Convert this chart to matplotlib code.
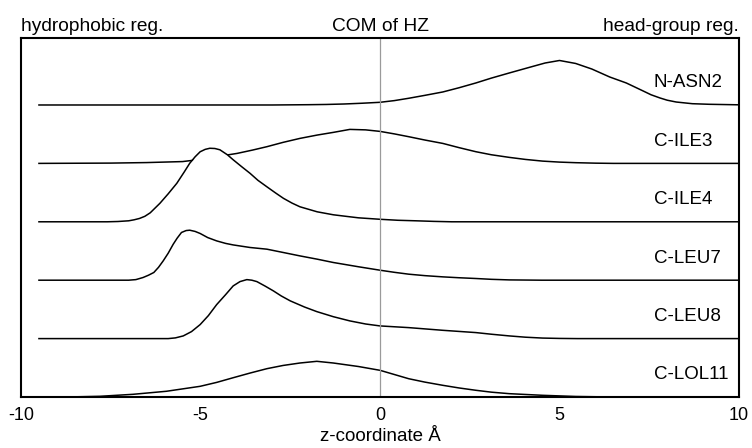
import matplotlib
matplotlib.use("Agg")
import matplotlib.pyplot as plt

plt.rcParams['font.family'] = ['Liberation Sans', 'DejaVu Sans']

# ---- data (densities in units of the vertical offset between curves) ----
labels = ["N-ASN2", "C-ILE3", "C-ILE4", "C-LEU7", "C-LEU8", "C-LOL11"]
offsets = [5, 4, 3, 2, 1, 0]

z_asn2 = [-9.5, -3.0, -2.0, -1.5, -1.0, -0.5, 0.0, 0.4, 0.8, 1.25, 1.75, 2.2, 2.67, 3.1, 3.6,
          4.2, 4.6, 5.0, 5.45, 5.9, 6.4, 6.86, 7.33, 7.55, 7.8, 8.0, 8.25, 8.7, 9.17, 10.0]
d_asn2 = [0, 0, .005, .009, .017, .030, .046, .075, .115, .165, .223, .295, .377, .460, .548,
          .651, .719, .762, .711, .616, .479, .377, .240, .175, .120, .082, .051, .022, .012, .003]

z_ile3 = [-9.5, -7.5, -6.5, -5.5, -5.0, -4.5, -3.98, -3.55, -3.15, -2.7, -2.23, -1.75, -1.3,
          -0.84, -0.4, 0.0, 0.4, 0.8, 1.25, 1.75, 2.2, 2.67, 3.1, 3.6, 4.05, 4.53, 5.0, 5.45,
          6.0, 6.5, 10.0]
d_ile3 = [0, .005, .014, .031, .068, .120, .171, .228, .286, .360, .428, .485, .531,
          .582, .574, .548, .505, .457, .400, .342, .270, .200, .148, .103, .068, .039, .022,
          .012, .004, 0, 0]

z_ile4 = [-9.5, -7.6, -7.3, -7.0, -6.85, -6.7, -6.55, -6.4, -6.13, -5.9, -5.66, -5.45, -5.3,
          -5.15, -5.01, -4.87, -4.74, -4.6, -4.46, -4.25, -4.09, -3.85, -3.62, -3.4, -3.15,
          -2.9, -2.69, -2.45, -2.23, -1.75, -1.3, -0.9, -0.6, 0.0, 0.5, 1.0, 1.5, 2.0, 10.0]
d_ile4 = [0, 0, .005, .017, .034, .057, .094, .154, .317, .479, .659, .856, 1.002,
          1.113, 1.199, 1.240, 1.259, 1.255, 1.233, 1.147, 1.062, .942, .830, .710, .599,
          .490, .402, .320, .257, .171, .120, .090, .068, .043, .026, .017, .007, 0, 0]

z_leu7 = [-9.5, -7.0, -6.8, -6.6, -6.45, -6.3, -6.17, -6.04, -5.9, -5.76, -5.65, -5.53,
          -5.4, -5.3, -5.15, -5.01, -4.8, -4.55, -4.3, -4.09, -3.62, -3.15, -2.7, -2.23,
          -1.75, -1.3, -0.6, 0.0, 0.4, 0.8, 1.25, 1.75, 2.2, 2.67, 3.1, 3.6, 4.5, 10.0]
d_leu7 = [0, 0, .010, .046, .085, .132, .220, .330, .462, .616, .720, .817,
          .850, .856, .835, .800, .730, .673, .630, .604, .560, .531, .475, .416,
          .360, .303, .230, .171, .135, .103, .078, .057, .042, .029, .015, .005, 0, 0]

z_leu8 = [-9.5, -5.9, -5.7, -5.48, -5.25, -5.01, -4.78, -4.55, -4.3, -4.09, -3.9, -3.71,
          -3.57, -3.43, -3.2, -2.97, -2.75, -2.5, -2.1, -1.76, -1.3, -0.84, -0.4, 0.0, 0.8,
          1.75, 2.67, 3.1, 3.6, 4.05, 4.53, 5.0, 5.5, 10.0]
d_leu8 = [0, 0, .012, .046, .120, .240, .394, .582, .753, .902, .976, 1.010,
          1.000, .976, .899, .817, .730, .646, .540, .462, .375, .303, .250, .217, .188,
          .142, .103, .075, .046, .024, .009, .003, 0, 0]

z_lol11 = [-9.5, -8.5, -7.8, -6.88, -5.95, -5.01, -4.55, -4.09, -3.62, -3.15, -2.7, -2.23,
           -1.76, -1.3, -0.6, 0.0, 0.4, 0.8, 1.25, 1.75, 2.2, 2.67, 3.1, 3.6, 4.53, 5.45,
           6.5, 10.0]
d_lol11 = [0, .003, .012, .046, .098, .183, .250, .330, .410, .485, .540, .582,
           .611, .582, .522, .457, .385, .313, .255, .200, .155, .115, .083, .057, .029,
           .009, 0, 0]

zs = [z_asn2, z_ile3, z_ile4, z_leu7, z_leu8, z_lol11]
ds = [d_asn2, d_ile3, d_ile4, d_leu7, d_leu8, d_lol11]

xticks = [-10, -5, 0, 5, 10]

# ---- figure ----
fig = plt.figure(figsize=(7.52, 4.48), dpi=100)
ax = fig.add_axes([21/752, 1 - 397/448, 718/752, 359/448])

for i, (z, d, off, lab) in enumerate(zip(zs, ds, offsets, labels)):
    top = [off + v for v in d]
    ax.fill_between(z, off, top, color="white", zorder=2 + 2*i, linewidth=0)
    ax.plot(z, top, color="black", lw=1.1, zorder=3 + 2*i, solid_joinstyle="round")
    ax.text(7.62, off + 0.3, lab, fontsize=13.5, ha="left", va="baseline", zorder=20)

ax.axvline(0, color="#9a9a9a", lw=0.9, zorder=30)

ax.set_xlim(-10, 10)
ax.set_ylim(0, 6.147)
ax.set_yticks([])
ax.set_xticks(xticks)
ax.set_xticklabels([str(t) for t in xticks])
ax.tick_params(axis="x", length=0, pad=7, labelsize=13)
for s in ax.spines.values():
    s.set_linewidth(1.5)
    s.set_zorder(40)
ax.set_xlabel("z-coordinate Å", fontsize=13.5, labelpad=3)

for xa, txt, ha in [(0.0, "hydrophobic reg.", "left"), (0.5, "COM of HZ", "center"),
                    (1.0, "head-group reg.", "right")]:
    ax.text(xa, 1 + 7.3/359, txt, transform=ax.transAxes, fontsize=13.8,
            ha=ha, va="baseline")

fig.savefig("out.png", dpi=100)
